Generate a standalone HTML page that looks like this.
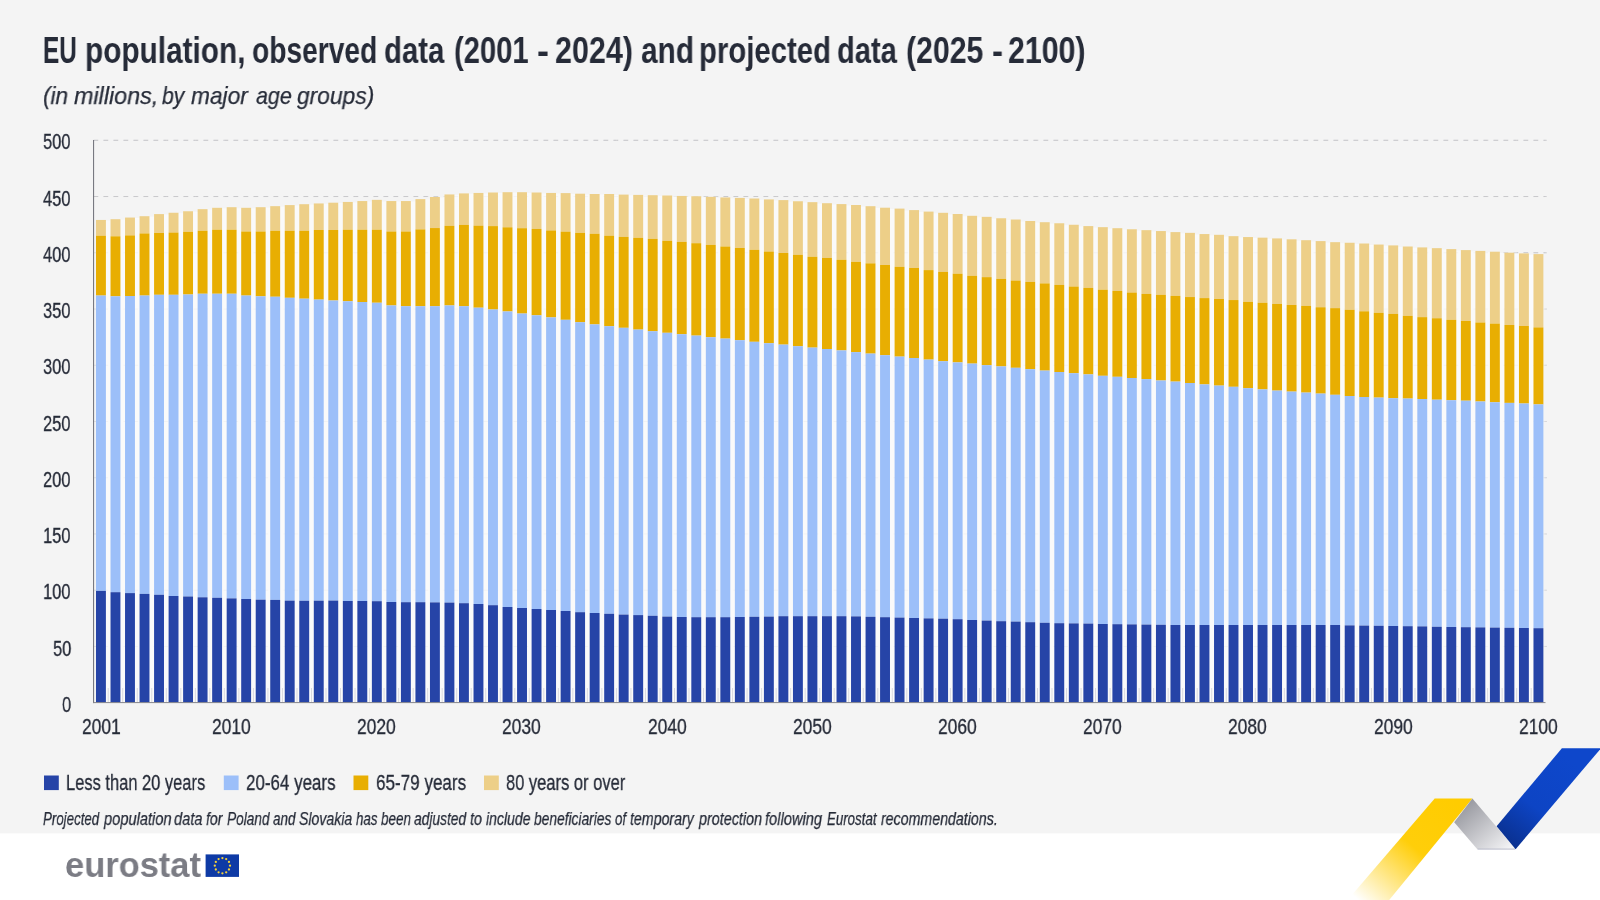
<!DOCTYPE html>
<html><head><meta charset="utf-8"><title>EU population</title>
<style>
html,body{margin:0;padding:0;}
body{width:1600px;height:900px;overflow:hidden;background:#F4F4F4;position:relative;font-family:"Liberation Sans",sans-serif;}
.t{position:absolute;white-space:nowrap;will-change:transform;transform-origin:0 0;font-family:"Liberation Sans",sans-serif;}
svg{position:absolute;left:0;top:0;}
</style></head><body>
<svg width="1600" height="900" viewBox="0 0 1600 900">
<defs>
<linearGradient id="gy" gradientUnits="userSpaceOnUse" x1="1455" y1="800" x2="1364" y2="905"><stop offset="0" stop-color="#FFCC00"/><stop offset="0.45" stop-color="#FFCE0A"/><stop offset="1" stop-color="#FFCC00" stop-opacity="0"/></linearGradient>
<linearGradient id="gg" gradientUnits="userSpaceOnUse" x1="1462" y1="805" x2="1505" y2="855"><stop offset="0" stop-color="#97989F"/><stop offset="1" stop-color="#F6F6F8"/></linearGradient>
<linearGradient id="gb" gradientUnits="userSpaceOnUse" x1="1570" y1="760" x2="1505" y2="845"><stop offset="0" stop-color="#0E47CB"/><stop offset="0.55" stop-color="#0D44C4"/><stop offset="1" stop-color="#0A2F8C"/></linearGradient>
</defs>
<rect x="0" y="833.35" width="1600" height="67" fill="#FFFFFF"/>

<clipPath id="above">
<rect x="90" y="0" width="3.70" height="900"/>
<rect x="93.69" y="0" width="14.54" height="219.65"/>
<rect x="108.21" y="0" width="14.54" height="218.90"/>
<rect x="122.73" y="0" width="14.54" height="217.25"/>
<rect x="137.25" y="0" width="14.54" height="215.90"/>
<rect x="151.77" y="0" width="14.54" height="213.80"/>
<rect x="166.29" y="0" width="14.54" height="212.45"/>
<rect x="180.81" y="0" width="14.54" height="210.95"/>
<rect x="195.33" y="0" width="14.54" height="208.85"/>
<rect x="209.85" y="0" width="14.54" height="207.50"/>
<rect x="224.37" y="0" width="14.54" height="206.90"/>
<rect x="238.89" y="0" width="14.54" height="207.50"/>
<rect x="253.41" y="0" width="14.54" height="206.90"/>
<rect x="267.93" y="0" width="14.54" height="205.85"/>
<rect x="282.45" y="0" width="14.54" height="204.80"/>
<rect x="296.97" y="0" width="14.54" height="203.90"/>
<rect x="311.49" y="0" width="14.54" height="203.15"/>
<rect x="326.01" y="0" width="14.54" height="202.40"/>
<rect x="340.53" y="0" width="14.54" height="201.65"/>
<rect x="355.05" y="0" width="14.54" height="200.75"/>
<rect x="369.57" y="0" width="14.54" height="199.55"/>
<rect x="384.09" y="0" width="14.54" height="200.75"/>
<rect x="398.61" y="0" width="14.54" height="200.75"/>
<rect x="413.13" y="0" width="14.54" height="198.80"/>
<rect x="427.65" y="0" width="14.54" height="196.70"/>
<rect x="442.17" y="0" width="14.54" height="194.15"/>
<rect x="456.69" y="0" width="14.54" height="193.10"/>
<rect x="471.21" y="0" width="14.54" height="192.65"/>
<rect x="485.73" y="0" width="14.54" height="192.20"/>
<rect x="500.25" y="0" width="14.54" height="191.90"/>
<rect x="514.77" y="0" width="14.54" height="191.90"/>
<rect x="529.29" y="0" width="14.54" height="192.20"/>
<rect x="543.81" y="0" width="14.54" height="192.65"/>
<rect x="558.33" y="0" width="14.54" height="192.80"/>
<rect x="572.85" y="0" width="14.54" height="193.40"/>
<rect x="587.37" y="0" width="14.54" height="193.70"/>
<rect x="601.89" y="0" width="14.54" height="193.70"/>
<rect x="616.41" y="0" width="14.54" height="194.30"/>
<rect x="630.93" y="0" width="14.54" height="194.60"/>
<rect x="645.45" y="0" width="14.54" height="194.90"/>
<rect x="659.97" y="0" width="14.54" height="195.20"/>
<rect x="674.49" y="0" width="14.54" height="195.65"/>
<rect x="689.01" y="0" width="14.54" height="195.95"/>
<rect x="703.53" y="0" width="14.54" height="196.55"/>
<rect x="718.05" y="0" width="14.54" height="197.15"/>
<rect x="732.57" y="0" width="14.54" height="197.60"/>
<rect x="747.09" y="0" width="14.54" height="198.20"/>
<rect x="761.61" y="0" width="14.54" height="199.10"/>
<rect x="776.13" y="0" width="14.54" height="199.80"/>
<rect x="790.65" y="0" width="14.54" height="200.95"/>
<rect x="805.17" y="0" width="14.54" height="201.85"/>
<rect x="819.69" y="0" width="14.54" height="202.90"/>
<rect x="834.21" y="0" width="14.54" height="203.80"/>
<rect x="848.73" y="0" width="14.54" height="204.70"/>
<rect x="863.25" y="0" width="14.54" height="205.90"/>
<rect x="877.77" y="0" width="14.54" height="207.40"/>
<rect x="892.29" y="0" width="14.54" height="208.30"/>
<rect x="906.81" y="0" width="14.54" height="209.80"/>
<rect x="921.33" y="0" width="14.54" height="211.30"/>
<rect x="935.85" y="0" width="14.54" height="212.50"/>
<rect x="950.37" y="0" width="14.54" height="213.70"/>
<rect x="964.89" y="0" width="14.54" height="215.50"/>
<rect x="979.41" y="0" width="14.54" height="216.55"/>
<rect x="993.93" y="0" width="14.54" height="217.95"/>
<rect x="1008.45" y="0" width="14.54" height="219.20"/>
<rect x="1022.97" y="0" width="14.54" height="220.70"/>
<rect x="1037.49" y="0" width="14.54" height="221.90"/>
<rect x="1052.01" y="0" width="14.54" height="222.95"/>
<rect x="1066.53" y="0" width="14.54" height="224.45"/>
<rect x="1081.05" y="0" width="14.54" height="225.80"/>
<rect x="1095.57" y="0" width="14.54" height="226.85"/>
<rect x="1110.09" y="0" width="14.54" height="227.90"/>
<rect x="1124.61" y="0" width="14.54" height="228.95"/>
<rect x="1139.13" y="0" width="14.54" height="229.85"/>
<rect x="1153.65" y="0" width="14.54" height="230.75"/>
<rect x="1168.17" y="0" width="14.54" height="231.80"/>
<rect x="1182.69" y="0" width="14.54" height="232.55"/>
<rect x="1197.21" y="0" width="14.54" height="233.75"/>
<rect x="1211.73" y="0" width="14.54" height="234.50"/>
<rect x="1226.25" y="0" width="14.54" height="235.85"/>
<rect x="1240.77" y="0" width="14.54" height="236.75"/>
<rect x="1255.29" y="0" width="14.54" height="237.35"/>
<rect x="1269.81" y="0" width="14.54" height="238.10"/>
<rect x="1284.33" y="0" width="14.54" height="239.00"/>
<rect x="1298.85" y="0" width="14.54" height="239.90"/>
<rect x="1313.37" y="0" width="14.54" height="240.80"/>
<rect x="1327.89" y="0" width="14.54" height="241.85"/>
<rect x="1342.41" y="0" width="14.54" height="242.45"/>
<rect x="1356.93" y="0" width="14.54" height="243.20"/>
<rect x="1371.45" y="0" width="14.54" height="244.25"/>
<rect x="1385.97" y="0" width="14.54" height="245.10"/>
<rect x="1400.49" y="0" width="14.54" height="246.20"/>
<rect x="1415.01" y="0" width="14.54" height="247.10"/>
<rect x="1429.53" y="0" width="14.54" height="247.85"/>
<rect x="1444.05" y="0" width="14.54" height="248.80"/>
<rect x="1458.57" y="0" width="14.54" height="249.80"/>
<rect x="1473.09" y="0" width="14.54" height="250.60"/>
<rect x="1487.61" y="0" width="14.54" height="251.40"/>
<rect x="1502.13" y="0" width="14.54" height="252.40"/>
<rect x="1516.65" y="0" width="14.54" height="253.10"/>
<rect x="1531.17" y="0" width="14.54" height="253.80"/>
<rect x="1545.69" y="0" width="20" height="900"/>
</clipPath>
<g stroke="#C9C9CC" stroke-width="1" stroke-dasharray="4.7 5.3" fill="none" opacity="0.45">
<path d="M93.5 646.46H1546.5"/>
<path d="M93.5 590.22H1546.5"/>
<path d="M93.5 533.98H1546.5"/>
<path d="M93.5 477.74H1546.5"/>
<path d="M93.5 421.50H1546.5"/>
<path d="M93.5 365.26H1546.5"/>
<path d="M93.5 309.02H1546.5"/>
<path d="M93.5 252.78H1546.5"/>
<path d="M93.5 196.54H1546.5"/>
<path d="M93.5 140.30H1546.5"/>
</g>
<g stroke="#C9C9CC" stroke-width="1" stroke-dasharray="4.7 5.3" fill="none" opacity="1" clip-path="url(#above)">
<path d="M93.5 646.46H1546.5"/>
<path d="M93.5 590.22H1546.5"/>
<path d="M93.5 533.98H1546.5"/>
<path d="M93.5 477.74H1546.5"/>
<path d="M93.5 421.50H1546.5"/>
<path d="M93.5 365.26H1546.5"/>
<path d="M93.5 309.02H1546.5"/>
<path d="M93.5 252.78H1546.5"/>
<path d="M93.5 196.54H1546.5"/>
<path d="M93.5 140.30H1546.5"/>
</g>
<g fill="#FFFFFF" opacity="0.6">
<rect x="105.60" y="220.45" width="5.22" height="481.75"/>
<rect x="120.12" y="219.70" width="5.22" height="482.50"/>
<rect x="134.64" y="218.05" width="5.22" height="484.15"/>
<rect x="149.16" y="216.70" width="5.22" height="485.50"/>
<rect x="163.68" y="214.60" width="5.22" height="487.60"/>
<rect x="178.20" y="213.25" width="5.22" height="488.95"/>
<rect x="192.72" y="211.75" width="5.22" height="490.45"/>
<rect x="207.24" y="209.65" width="5.22" height="492.55"/>
<rect x="221.76" y="208.30" width="5.22" height="493.90"/>
<rect x="236.28" y="208.30" width="5.22" height="493.90"/>
<rect x="250.80" y="208.30" width="5.22" height="493.90"/>
<rect x="265.32" y="207.70" width="5.22" height="494.50"/>
<rect x="279.84" y="206.65" width="5.22" height="495.55"/>
<rect x="294.36" y="205.60" width="5.22" height="496.60"/>
<rect x="308.88" y="204.70" width="5.22" height="497.50"/>
<rect x="323.40" y="203.95" width="5.22" height="498.25"/>
<rect x="337.92" y="203.20" width="5.22" height="499.00"/>
<rect x="352.44" y="202.45" width="5.22" height="499.75"/>
<rect x="366.96" y="201.55" width="5.22" height="500.65"/>
<rect x="381.48" y="201.55" width="5.22" height="500.65"/>
<rect x="396.00" y="201.55" width="5.22" height="500.65"/>
<rect x="410.52" y="201.55" width="5.22" height="500.65"/>
<rect x="425.04" y="199.60" width="5.22" height="502.60"/>
<rect x="439.56" y="197.50" width="5.22" height="504.70"/>
<rect x="454.08" y="194.95" width="5.22" height="507.25"/>
<rect x="468.60" y="193.90" width="5.22" height="508.30"/>
<rect x="483.12" y="193.45" width="5.22" height="508.75"/>
<rect x="497.64" y="193.00" width="5.22" height="509.20"/>
<rect x="512.16" y="192.70" width="5.22" height="509.50"/>
<rect x="526.68" y="193.00" width="5.22" height="509.20"/>
<rect x="541.20" y="193.45" width="5.22" height="508.75"/>
<rect x="555.72" y="193.60" width="5.22" height="508.60"/>
<rect x="570.24" y="194.20" width="5.22" height="508.00"/>
<rect x="584.76" y="194.50" width="5.22" height="507.70"/>
<rect x="599.28" y="194.50" width="5.22" height="507.70"/>
<rect x="613.80" y="195.10" width="5.22" height="507.10"/>
<rect x="628.32" y="195.40" width="5.22" height="506.80"/>
<rect x="642.84" y="195.70" width="5.22" height="506.50"/>
<rect x="657.36" y="196.00" width="5.22" height="506.20"/>
<rect x="671.88" y="196.45" width="5.22" height="505.75"/>
<rect x="686.40" y="196.75" width="5.22" height="505.45"/>
<rect x="700.92" y="197.35" width="5.22" height="504.85"/>
<rect x="715.44" y="197.95" width="5.22" height="504.25"/>
<rect x="729.96" y="198.40" width="5.22" height="503.80"/>
<rect x="744.48" y="199.00" width="5.22" height="503.20"/>
<rect x="759.00" y="199.90" width="5.22" height="502.30"/>
<rect x="773.52" y="200.60" width="5.22" height="501.60"/>
<rect x="788.04" y="201.75" width="5.22" height="500.45"/>
<rect x="802.56" y="202.65" width="5.22" height="499.55"/>
<rect x="817.08" y="203.70" width="5.22" height="498.50"/>
<rect x="831.60" y="204.60" width="5.22" height="497.60"/>
<rect x="846.12" y="205.50" width="5.22" height="496.70"/>
<rect x="860.64" y="206.70" width="5.22" height="495.50"/>
<rect x="875.16" y="208.20" width="5.22" height="494.00"/>
<rect x="889.68" y="209.10" width="5.22" height="493.10"/>
<rect x="904.20" y="210.60" width="5.22" height="491.60"/>
<rect x="918.72" y="212.10" width="5.22" height="490.10"/>
<rect x="933.24" y="213.30" width="5.22" height="488.90"/>
<rect x="947.76" y="214.50" width="5.22" height="487.70"/>
<rect x="962.28" y="216.30" width="5.22" height="485.90"/>
<rect x="976.80" y="217.35" width="5.22" height="484.85"/>
<rect x="991.32" y="218.75" width="5.22" height="483.45"/>
<rect x="1005.84" y="220.00" width="5.22" height="482.20"/>
<rect x="1020.36" y="221.50" width="5.22" height="480.70"/>
<rect x="1034.88" y="222.70" width="5.22" height="479.50"/>
<rect x="1049.40" y="223.75" width="5.22" height="478.45"/>
<rect x="1063.92" y="225.25" width="5.22" height="476.95"/>
<rect x="1078.44" y="226.60" width="5.22" height="475.60"/>
<rect x="1092.96" y="227.65" width="5.22" height="474.55"/>
<rect x="1107.48" y="228.70" width="5.22" height="473.50"/>
<rect x="1122.00" y="229.75" width="5.22" height="472.45"/>
<rect x="1136.52" y="230.65" width="5.22" height="471.55"/>
<rect x="1151.04" y="231.55" width="5.22" height="470.65"/>
<rect x="1165.56" y="232.60" width="5.22" height="469.60"/>
<rect x="1180.08" y="233.35" width="5.22" height="468.85"/>
<rect x="1194.60" y="234.55" width="5.22" height="467.65"/>
<rect x="1209.12" y="235.30" width="5.22" height="466.90"/>
<rect x="1223.64" y="236.65" width="5.22" height="465.55"/>
<rect x="1238.16" y="237.55" width="5.22" height="464.65"/>
<rect x="1252.68" y="238.15" width="5.22" height="464.05"/>
<rect x="1267.20" y="238.90" width="5.22" height="463.30"/>
<rect x="1281.72" y="239.80" width="5.22" height="462.40"/>
<rect x="1296.24" y="240.70" width="5.22" height="461.50"/>
<rect x="1310.76" y="241.60" width="5.22" height="460.60"/>
<rect x="1325.28" y="242.65" width="5.22" height="459.55"/>
<rect x="1339.80" y="243.25" width="5.22" height="458.95"/>
<rect x="1354.32" y="244.00" width="5.22" height="458.20"/>
<rect x="1368.84" y="245.05" width="5.22" height="457.15"/>
<rect x="1383.36" y="245.90" width="5.22" height="456.30"/>
<rect x="1397.88" y="247.00" width="5.22" height="455.20"/>
<rect x="1412.40" y="247.90" width="5.22" height="454.30"/>
<rect x="1426.92" y="248.65" width="5.22" height="453.55"/>
<rect x="1441.44" y="249.60" width="5.22" height="452.60"/>
<rect x="1455.96" y="250.60" width="5.22" height="451.60"/>
<rect x="1470.48" y="251.40" width="5.22" height="450.80"/>
<rect x="1485.00" y="252.20" width="5.22" height="450.00"/>
<rect x="1499.52" y="253.20" width="5.22" height="449.00"/>
<rect x="1514.04" y="253.90" width="5.22" height="448.30"/>
<rect x="1528.56" y="254.60" width="5.22" height="447.60"/>
</g>
<g fill="#EDCF88">
<rect x="96.00" y="219.95" width="9.9" height="15.75"/>
<rect x="110.52" y="219.20" width="9.9" height="17.10"/>
<rect x="125.04" y="217.55" width="9.9" height="17.85"/>
<rect x="139.56" y="216.20" width="9.9" height="17.25"/>
<rect x="154.08" y="214.10" width="9.9" height="18.90"/>
<rect x="168.60" y="212.75" width="9.9" height="19.80"/>
<rect x="183.12" y="211.25" width="9.9" height="20.55"/>
<rect x="197.64" y="209.15" width="9.9" height="21.60"/>
<rect x="212.16" y="207.80" width="9.9" height="21.90"/>
<rect x="226.68" y="207.20" width="9.9" height="22.50"/>
<rect x="241.20" y="207.80" width="9.9" height="23.70"/>
<rect x="255.72" y="207.20" width="9.9" height="24.30"/>
<rect x="270.24" y="206.15" width="9.9" height="24.60"/>
<rect x="284.76" y="205.10" width="9.9" height="25.65"/>
<rect x="299.28" y="204.20" width="9.9" height="26.55"/>
<rect x="313.80" y="203.45" width="9.9" height="26.55"/>
<rect x="328.32" y="202.70" width="9.9" height="27.30"/>
<rect x="342.84" y="201.95" width="9.9" height="27.75"/>
<rect x="357.36" y="201.05" width="9.9" height="28.65"/>
<rect x="371.88" y="199.85" width="9.9" height="29.85"/>
<rect x="386.40" y="201.05" width="9.9" height="30.45"/>
<rect x="400.92" y="201.05" width="9.9" height="30.45"/>
<rect x="415.44" y="199.10" width="9.9" height="30.30"/>
<rect x="429.96" y="197.00" width="9.9" height="31.05"/>
<rect x="444.48" y="194.45" width="9.9" height="31.35"/>
<rect x="459.00" y="193.40" width="9.9" height="31.50"/>
<rect x="473.52" y="192.95" width="9.9" height="32.70"/>
<rect x="488.04" y="192.50" width="9.9" height="33.60"/>
<rect x="502.56" y="192.20" width="9.9" height="35.10"/>
<rect x="517.08" y="192.20" width="9.9" height="36.00"/>
<rect x="531.60" y="192.50" width="9.9" height="36.45"/>
<rect x="546.12" y="192.95" width="9.9" height="37.50"/>
<rect x="560.64" y="193.10" width="9.9" height="38.55"/>
<rect x="575.16" y="193.70" width="9.9" height="39.15"/>
<rect x="589.68" y="194.00" width="9.9" height="39.75"/>
<rect x="604.20" y="194.00" width="9.9" height="41.70"/>
<rect x="618.72" y="194.60" width="9.9" height="42.30"/>
<rect x="633.24" y="194.90" width="9.9" height="42.90"/>
<rect x="647.76" y="195.20" width="9.9" height="43.65"/>
<rect x="662.28" y="195.50" width="9.9" height="45.30"/>
<rect x="676.80" y="195.95" width="9.9" height="45.90"/>
<rect x="691.32" y="196.25" width="9.9" height="46.95"/>
<rect x="705.84" y="196.85" width="9.9" height="48.00"/>
<rect x="720.36" y="197.45" width="9.9" height="49.05"/>
<rect x="734.88" y="197.90" width="9.9" height="50.10"/>
<rect x="749.40" y="198.50" width="9.9" height="51.30"/>
<rect x="763.92" y="199.40" width="9.9" height="52.15"/>
<rect x="778.44" y="200.10" width="9.9" height="52.90"/>
<rect x="792.96" y="201.25" width="9.9" height="53.55"/>
<rect x="807.48" y="202.15" width="9.9" height="54.60"/>
<rect x="822.00" y="203.20" width="9.9" height="54.75"/>
<rect x="836.52" y="204.10" width="9.9" height="55.65"/>
<rect x="851.04" y="205.00" width="9.9" height="56.85"/>
<rect x="865.56" y="206.20" width="9.9" height="57.15"/>
<rect x="880.08" y="207.70" width="9.9" height="57.30"/>
<rect x="894.60" y="208.60" width="9.9" height="58.20"/>
<rect x="909.12" y="210.10" width="9.9" height="57.90"/>
<rect x="923.64" y="211.60" width="9.9" height="58.50"/>
<rect x="938.16" y="212.80" width="9.9" height="59.10"/>
<rect x="952.68" y="214.00" width="9.9" height="59.70"/>
<rect x="967.20" y="215.80" width="9.9" height="60.00"/>
<rect x="981.72" y="216.85" width="9.9" height="60.30"/>
<rect x="996.24" y="218.25" width="9.9" height="60.60"/>
<rect x="1010.76" y="219.50" width="9.9" height="61.05"/>
<rect x="1025.28" y="221.00" width="9.9" height="60.90"/>
<rect x="1039.80" y="222.20" width="9.9" height="61.20"/>
<rect x="1054.32" y="223.25" width="9.9" height="61.65"/>
<rect x="1068.84" y="224.75" width="9.9" height="61.80"/>
<rect x="1083.36" y="226.10" width="9.9" height="61.80"/>
<rect x="1097.88" y="227.15" width="9.9" height="62.55"/>
<rect x="1112.40" y="228.20" width="9.9" height="62.70"/>
<rect x="1126.92" y="229.25" width="9.9" height="63.30"/>
<rect x="1141.44" y="230.15" width="9.9" height="63.75"/>
<rect x="1155.96" y="231.05" width="9.9" height="63.75"/>
<rect x="1170.48" y="232.10" width="9.9" height="63.75"/>
<rect x="1185.00" y="232.85" width="9.9" height="64.20"/>
<rect x="1199.52" y="234.05" width="9.9" height="64.05"/>
<rect x="1214.04" y="234.80" width="9.9" height="64.20"/>
<rect x="1228.56" y="236.15" width="9.9" height="63.90"/>
<rect x="1243.08" y="237.05" width="9.9" height="64.80"/>
<rect x="1257.60" y="237.65" width="9.9" height="65.10"/>
<rect x="1272.12" y="238.40" width="9.9" height="65.55"/>
<rect x="1286.64" y="239.30" width="9.9" height="65.70"/>
<rect x="1301.16" y="240.20" width="9.9" height="65.70"/>
<rect x="1315.68" y="241.10" width="9.9" height="66.15"/>
<rect x="1330.20" y="242.15" width="9.9" height="66.00"/>
<rect x="1344.72" y="242.75" width="9.9" height="67.05"/>
<rect x="1359.24" y="243.50" width="9.9" height="67.80"/>
<rect x="1373.76" y="244.55" width="9.9" height="68.25"/>
<rect x="1388.28" y="245.40" width="9.9" height="68.50"/>
<rect x="1402.80" y="246.50" width="9.9" height="69.35"/>
<rect x="1417.32" y="247.40" width="9.9" height="69.75"/>
<rect x="1431.84" y="248.15" width="9.9" height="70.10"/>
<rect x="1446.36" y="249.10" width="9.9" height="70.70"/>
<rect x="1460.88" y="250.10" width="9.9" height="70.90"/>
<rect x="1475.40" y="250.90" width="9.9" height="71.60"/>
<rect x="1489.92" y="251.70" width="9.9" height="71.90"/>
<rect x="1504.44" y="252.70" width="9.9" height="72.30"/>
<rect x="1518.96" y="253.40" width="9.9" height="72.60"/>
<rect x="1533.48" y="254.10" width="9.9" height="73.30"/>
</g>
<g fill="#E8AE02">
<rect x="96.00" y="235.70" width="9.9" height="59.85"/>
<rect x="110.52" y="236.30" width="9.9" height="60.00"/>
<rect x="125.04" y="235.40" width="9.9" height="60.60"/>
<rect x="139.56" y="233.45" width="9.9" height="62.10"/>
<rect x="154.08" y="233.00" width="9.9" height="61.80"/>
<rect x="168.60" y="232.55" width="9.9" height="62.25"/>
<rect x="183.12" y="231.80" width="9.9" height="62.70"/>
<rect x="197.64" y="230.75" width="9.9" height="63.00"/>
<rect x="212.16" y="229.70" width="9.9" height="64.05"/>
<rect x="226.68" y="229.70" width="9.9" height="64.05"/>
<rect x="241.20" y="231.50" width="9.9" height="64.05"/>
<rect x="255.72" y="231.50" width="9.9" height="64.80"/>
<rect x="270.24" y="230.75" width="9.9" height="66.00"/>
<rect x="284.76" y="230.75" width="9.9" height="67.05"/>
<rect x="299.28" y="230.75" width="9.9" height="67.95"/>
<rect x="313.80" y="230.00" width="9.9" height="69.60"/>
<rect x="328.32" y="230.00" width="9.9" height="70.50"/>
<rect x="342.84" y="229.70" width="9.9" height="71.55"/>
<rect x="357.36" y="229.70" width="9.9" height="72.30"/>
<rect x="371.88" y="229.70" width="9.9" height="73.05"/>
<rect x="386.40" y="231.50" width="9.9" height="73.95"/>
<rect x="400.92" y="231.50" width="9.9" height="74.70"/>
<rect x="415.44" y="229.40" width="9.9" height="76.80"/>
<rect x="429.96" y="228.05" width="9.9" height="78.15"/>
<rect x="444.48" y="225.80" width="9.9" height="79.65"/>
<rect x="459.00" y="224.90" width="9.9" height="81.30"/>
<rect x="473.52" y="225.65" width="9.9" height="82.05"/>
<rect x="488.04" y="226.10" width="9.9" height="83.40"/>
<rect x="502.56" y="227.30" width="9.9" height="84.15"/>
<rect x="517.08" y="228.20" width="9.9" height="85.35"/>
<rect x="531.60" y="228.95" width="9.9" height="86.35"/>
<rect x="546.12" y="230.45" width="9.9" height="86.95"/>
<rect x="560.64" y="231.65" width="9.9" height="88.15"/>
<rect x="575.16" y="232.85" width="9.9" height="89.35"/>
<rect x="589.68" y="233.75" width="9.9" height="90.65"/>
<rect x="604.20" y="235.70" width="9.9" height="90.50"/>
<rect x="618.72" y="236.90" width="9.9" height="90.90"/>
<rect x="633.24" y="237.80" width="9.9" height="91.80"/>
<rect x="647.76" y="238.85" width="9.9" height="92.35"/>
<rect x="662.28" y="240.80" width="9.9" height="92.00"/>
<rect x="676.80" y="241.85" width="9.9" height="92.35"/>
<rect x="691.32" y="243.20" width="9.9" height="92.40"/>
<rect x="705.84" y="244.85" width="9.9" height="92.35"/>
<rect x="720.36" y="246.50" width="9.9" height="92.10"/>
<rect x="734.88" y="248.00" width="9.9" height="92.20"/>
<rect x="749.40" y="249.80" width="9.9" height="92.00"/>
<rect x="763.92" y="251.55" width="9.9" height="91.65"/>
<rect x="778.44" y="253.00" width="9.9" height="91.60"/>
<rect x="792.96" y="254.80" width="9.9" height="91.40"/>
<rect x="807.48" y="256.75" width="9.9" height="90.85"/>
<rect x="822.00" y="257.95" width="9.9" height="91.05"/>
<rect x="836.52" y="259.75" width="9.9" height="90.65"/>
<rect x="851.04" y="261.85" width="9.9" height="90.25"/>
<rect x="865.56" y="263.35" width="9.9" height="90.25"/>
<rect x="880.08" y="265.00" width="9.9" height="90.20"/>
<rect x="894.60" y="266.80" width="9.9" height="89.80"/>
<rect x="909.12" y="268.00" width="9.9" height="90.00"/>
<rect x="923.64" y="270.10" width="9.9" height="89.50"/>
<rect x="938.16" y="271.90" width="9.9" height="89.30"/>
<rect x="952.68" y="273.70" width="9.9" height="88.70"/>
<rect x="967.20" y="275.80" width="9.9" height="87.80"/>
<rect x="981.72" y="277.15" width="9.9" height="88.05"/>
<rect x="996.24" y="278.85" width="9.9" height="87.55"/>
<rect x="1010.76" y="280.55" width="9.9" height="87.25"/>
<rect x="1025.28" y="281.90" width="9.9" height="87.30"/>
<rect x="1039.80" y="283.40" width="9.9" height="87.20"/>
<rect x="1054.32" y="284.90" width="9.9" height="87.10"/>
<rect x="1068.84" y="286.55" width="9.9" height="86.65"/>
<rect x="1083.36" y="287.90" width="9.9" height="86.50"/>
<rect x="1097.88" y="289.70" width="9.9" height="86.10"/>
<rect x="1112.40" y="290.90" width="9.9" height="85.90"/>
<rect x="1126.92" y="292.55" width="9.9" height="85.45"/>
<rect x="1141.44" y="293.90" width="9.9" height="85.20"/>
<rect x="1155.96" y="294.80" width="9.9" height="85.70"/>
<rect x="1170.48" y="295.85" width="9.9" height="85.75"/>
<rect x="1185.00" y="297.05" width="9.9" height="85.95"/>
<rect x="1199.52" y="298.10" width="9.9" height="86.30"/>
<rect x="1214.04" y="299.00" width="9.9" height="86.60"/>
<rect x="1228.56" y="300.05" width="9.9" height="86.75"/>
<rect x="1243.08" y="301.85" width="9.9" height="86.35"/>
<rect x="1257.60" y="302.75" width="9.9" height="86.65"/>
<rect x="1272.12" y="303.95" width="9.9" height="86.65"/>
<rect x="1286.64" y="305.00" width="9.9" height="86.60"/>
<rect x="1301.16" y="305.90" width="9.9" height="86.70"/>
<rect x="1315.68" y="307.25" width="9.9" height="86.35"/>
<rect x="1330.20" y="308.15" width="9.9" height="86.65"/>
<rect x="1344.72" y="309.80" width="9.9" height="86.20"/>
<rect x="1359.24" y="311.30" width="9.9" height="85.70"/>
<rect x="1373.76" y="312.80" width="9.9" height="84.80"/>
<rect x="1388.28" y="313.90" width="9.9" height="84.30"/>
<rect x="1402.80" y="315.85" width="9.9" height="82.70"/>
<rect x="1417.32" y="317.15" width="9.9" height="81.85"/>
<rect x="1431.84" y="318.25" width="9.9" height="81.45"/>
<rect x="1446.36" y="319.80" width="9.9" height="80.40"/>
<rect x="1460.88" y="321.00" width="9.9" height="79.70"/>
<rect x="1475.40" y="322.50" width="9.9" height="79.00"/>
<rect x="1489.92" y="323.60" width="9.9" height="78.65"/>
<rect x="1504.44" y="325.00" width="9.9" height="77.90"/>
<rect x="1518.96" y="326.00" width="9.9" height="77.50"/>
<rect x="1533.48" y="327.40" width="9.9" height="77.00"/>
</g>
<g fill="#9CBFF9">
<rect x="96.00" y="295.55" width="9.9" height="295.35"/>
<rect x="110.52" y="296.30" width="9.9" height="295.90"/>
<rect x="125.04" y="296.00" width="9.9" height="297.10"/>
<rect x="139.56" y="295.55" width="9.9" height="298.35"/>
<rect x="154.08" y="294.80" width="9.9" height="300.00"/>
<rect x="168.60" y="294.80" width="9.9" height="301.20"/>
<rect x="183.12" y="294.50" width="9.9" height="302.00"/>
<rect x="197.64" y="293.75" width="9.9" height="303.55"/>
<rect x="212.16" y="293.75" width="9.9" height="304.05"/>
<rect x="226.68" y="293.75" width="9.9" height="304.65"/>
<rect x="241.20" y="295.55" width="9.9" height="303.45"/>
<rect x="255.72" y="296.30" width="9.9" height="303.40"/>
<rect x="270.24" y="296.75" width="9.9" height="303.15"/>
<rect x="284.76" y="297.80" width="9.9" height="302.85"/>
<rect x="299.28" y="298.70" width="9.9" height="302.10"/>
<rect x="313.80" y="299.60" width="9.9" height="301.10"/>
<rect x="328.32" y="300.50" width="9.9" height="300.10"/>
<rect x="342.84" y="301.25" width="9.9" height="299.75"/>
<rect x="357.36" y="302.00" width="9.9" height="299.00"/>
<rect x="371.88" y="302.75" width="9.9" height="298.45"/>
<rect x="386.40" y="305.45" width="9.9" height="296.55"/>
<rect x="400.92" y="306.20" width="9.9" height="296.00"/>
<rect x="415.44" y="306.20" width="9.9" height="296.00"/>
<rect x="429.96" y="306.20" width="9.9" height="296.20"/>
<rect x="444.48" y="305.45" width="9.9" height="297.15"/>
<rect x="459.00" y="306.20" width="9.9" height="297.00"/>
<rect x="473.52" y="307.70" width="9.9" height="296.30"/>
<rect x="488.04" y="309.50" width="9.9" height="295.70"/>
<rect x="502.56" y="311.45" width="9.9" height="295.55"/>
<rect x="517.08" y="313.55" width="9.9" height="294.45"/>
<rect x="531.60" y="315.30" width="9.9" height="293.70"/>
<rect x="546.12" y="317.40" width="9.9" height="292.60"/>
<rect x="560.64" y="319.80" width="9.9" height="291.20"/>
<rect x="575.16" y="322.20" width="9.9" height="290.00"/>
<rect x="589.68" y="324.40" width="9.9" height="288.60"/>
<rect x="604.20" y="326.20" width="9.9" height="287.60"/>
<rect x="618.72" y="327.80" width="9.9" height="286.80"/>
<rect x="633.24" y="329.60" width="9.9" height="285.50"/>
<rect x="647.76" y="331.20" width="9.9" height="284.60"/>
<rect x="662.28" y="332.80" width="9.9" height="283.80"/>
<rect x="676.80" y="334.20" width="9.9" height="282.80"/>
<rect x="691.32" y="335.60" width="9.9" height="281.60"/>
<rect x="705.84" y="337.20" width="9.9" height="280.00"/>
<rect x="720.36" y="338.60" width="9.9" height="278.60"/>
<rect x="734.88" y="340.20" width="9.9" height="276.80"/>
<rect x="749.40" y="341.80" width="9.9" height="275.00"/>
<rect x="763.92" y="343.20" width="9.9" height="273.40"/>
<rect x="778.44" y="344.60" width="9.9" height="271.60"/>
<rect x="792.96" y="346.20" width="9.9" height="270.00"/>
<rect x="807.48" y="347.60" width="9.9" height="268.60"/>
<rect x="822.00" y="349.00" width="9.9" height="267.20"/>
<rect x="836.52" y="350.40" width="9.9" height="265.80"/>
<rect x="851.04" y="352.10" width="9.9" height="264.30"/>
<rect x="865.56" y="353.60" width="9.9" height="263.20"/>
<rect x="880.08" y="355.20" width="9.9" height="262.00"/>
<rect x="894.60" y="356.60" width="9.9" height="261.00"/>
<rect x="909.12" y="358.00" width="9.9" height="260.00"/>
<rect x="923.64" y="359.60" width="9.9" height="258.80"/>
<rect x="938.16" y="361.20" width="9.9" height="257.50"/>
<rect x="952.68" y="362.40" width="9.9" height="256.80"/>
<rect x="967.20" y="363.60" width="9.9" height="256.40"/>
<rect x="981.72" y="365.20" width="9.9" height="255.40"/>
<rect x="996.24" y="366.40" width="9.9" height="254.80"/>
<rect x="1010.76" y="367.80" width="9.9" height="253.80"/>
<rect x="1025.28" y="369.20" width="9.9" height="253.00"/>
<rect x="1039.80" y="370.60" width="9.9" height="252.20"/>
<rect x="1054.32" y="372.00" width="9.9" height="251.20"/>
<rect x="1068.84" y="373.20" width="9.9" height="250.20"/>
<rect x="1083.36" y="374.40" width="9.9" height="249.20"/>
<rect x="1097.88" y="375.80" width="9.9" height="248.20"/>
<rect x="1112.40" y="376.80" width="9.9" height="247.40"/>
<rect x="1126.92" y="378.00" width="9.9" height="246.40"/>
<rect x="1141.44" y="379.10" width="9.9" height="245.50"/>
<rect x="1155.96" y="380.50" width="9.9" height="244.30"/>
<rect x="1170.48" y="381.60" width="9.9" height="243.40"/>
<rect x="1185.00" y="383.00" width="9.9" height="242.00"/>
<rect x="1199.52" y="384.40" width="9.9" height="240.60"/>
<rect x="1214.04" y="385.60" width="9.9" height="239.40"/>
<rect x="1228.56" y="386.80" width="9.9" height="238.20"/>
<rect x="1243.08" y="388.20" width="9.9" height="236.80"/>
<rect x="1257.60" y="389.40" width="9.9" height="235.60"/>
<rect x="1272.12" y="390.60" width="9.9" height="234.40"/>
<rect x="1286.64" y="391.60" width="9.9" height="233.40"/>
<rect x="1301.16" y="392.60" width="9.9" height="232.40"/>
<rect x="1315.68" y="393.60" width="9.9" height="231.40"/>
<rect x="1330.20" y="394.80" width="9.9" height="230.20"/>
<rect x="1344.72" y="396.00" width="9.9" height="229.40"/>
<rect x="1359.24" y="397.00" width="9.9" height="228.60"/>
<rect x="1373.76" y="397.60" width="9.9" height="228.20"/>
<rect x="1388.28" y="398.20" width="9.9" height="227.80"/>
<rect x="1402.80" y="398.55" width="9.9" height="227.65"/>
<rect x="1417.32" y="399.00" width="9.9" height="227.40"/>
<rect x="1431.84" y="399.70" width="9.9" height="227.10"/>
<rect x="1446.36" y="400.20" width="9.9" height="226.80"/>
<rect x="1460.88" y="400.70" width="9.9" height="226.50"/>
<rect x="1475.40" y="401.50" width="9.9" height="225.90"/>
<rect x="1489.92" y="402.25" width="9.9" height="225.35"/>
<rect x="1504.44" y="402.90" width="9.9" height="224.90"/>
<rect x="1518.96" y="403.50" width="9.9" height="224.50"/>
<rect x="1533.48" y="404.40" width="9.9" height="223.80"/>
</g>
<g fill="#2644A7">
<rect x="96.00" y="590.90" width="9.9" height="111.50"/>
<rect x="110.52" y="592.20" width="9.9" height="110.20"/>
<rect x="125.04" y="593.10" width="9.9" height="109.30"/>
<rect x="139.56" y="593.90" width="9.9" height="108.50"/>
<rect x="154.08" y="594.80" width="9.9" height="107.60"/>
<rect x="168.60" y="596.00" width="9.9" height="106.40"/>
<rect x="183.12" y="596.50" width="9.9" height="105.90"/>
<rect x="197.64" y="597.30" width="9.9" height="105.10"/>
<rect x="212.16" y="597.80" width="9.9" height="104.60"/>
<rect x="226.68" y="598.40" width="9.9" height="104.00"/>
<rect x="241.20" y="599.00" width="9.9" height="103.40"/>
<rect x="255.72" y="599.70" width="9.9" height="102.70"/>
<rect x="270.24" y="599.90" width="9.9" height="102.50"/>
<rect x="284.76" y="600.65" width="9.9" height="101.75"/>
<rect x="299.28" y="600.80" width="9.9" height="101.60"/>
<rect x="313.80" y="600.70" width="9.9" height="101.70"/>
<rect x="328.32" y="600.60" width="9.9" height="101.80"/>
<rect x="342.84" y="601.00" width="9.9" height="101.40"/>
<rect x="357.36" y="601.00" width="9.9" height="101.40"/>
<rect x="371.88" y="601.20" width="9.9" height="101.20"/>
<rect x="386.40" y="602.00" width="9.9" height="100.40"/>
<rect x="400.92" y="602.20" width="9.9" height="100.20"/>
<rect x="415.44" y="602.20" width="9.9" height="100.20"/>
<rect x="429.96" y="602.40" width="9.9" height="100.00"/>
<rect x="444.48" y="602.60" width="9.9" height="99.80"/>
<rect x="459.00" y="603.20" width="9.9" height="99.20"/>
<rect x="473.52" y="604.00" width="9.9" height="98.40"/>
<rect x="488.04" y="605.20" width="9.9" height="97.20"/>
<rect x="502.56" y="607.00" width="9.9" height="95.40"/>
<rect x="517.08" y="608.00" width="9.9" height="94.40"/>
<rect x="531.60" y="609.00" width="9.9" height="93.40"/>
<rect x="546.12" y="610.00" width="9.9" height="92.40"/>
<rect x="560.64" y="611.00" width="9.9" height="91.40"/>
<rect x="575.16" y="612.20" width="9.9" height="90.20"/>
<rect x="589.68" y="613.00" width="9.9" height="89.40"/>
<rect x="604.20" y="613.80" width="9.9" height="88.60"/>
<rect x="618.72" y="614.60" width="9.9" height="87.80"/>
<rect x="633.24" y="615.10" width="9.9" height="87.30"/>
<rect x="647.76" y="615.80" width="9.9" height="86.60"/>
<rect x="662.28" y="616.60" width="9.9" height="85.80"/>
<rect x="676.80" y="617.00" width="9.9" height="85.40"/>
<rect x="691.32" y="617.20" width="9.9" height="85.20"/>
<rect x="705.84" y="617.20" width="9.9" height="85.20"/>
<rect x="720.36" y="617.20" width="9.9" height="85.20"/>
<rect x="734.88" y="617.00" width="9.9" height="85.40"/>
<rect x="749.40" y="616.80" width="9.9" height="85.60"/>
<rect x="763.92" y="616.60" width="9.9" height="85.80"/>
<rect x="778.44" y="616.20" width="9.9" height="86.20"/>
<rect x="792.96" y="616.20" width="9.9" height="86.20"/>
<rect x="807.48" y="616.20" width="9.9" height="86.20"/>
<rect x="822.00" y="616.20" width="9.9" height="86.20"/>
<rect x="836.52" y="616.20" width="9.9" height="86.20"/>
<rect x="851.04" y="616.40" width="9.9" height="86.00"/>
<rect x="865.56" y="616.80" width="9.9" height="85.60"/>
<rect x="880.08" y="617.20" width="9.9" height="85.20"/>
<rect x="894.60" y="617.60" width="9.9" height="84.80"/>
<rect x="909.12" y="618.00" width="9.9" height="84.40"/>
<rect x="923.64" y="618.40" width="9.9" height="84.00"/>
<rect x="938.16" y="618.70" width="9.9" height="83.70"/>
<rect x="952.68" y="619.20" width="9.9" height="83.20"/>
<rect x="967.20" y="620.00" width="9.9" height="82.40"/>
<rect x="981.72" y="620.60" width="9.9" height="81.80"/>
<rect x="996.24" y="621.20" width="9.9" height="81.20"/>
<rect x="1010.76" y="621.60" width="9.9" height="80.80"/>
<rect x="1025.28" y="622.20" width="9.9" height="80.20"/>
<rect x="1039.80" y="622.80" width="9.9" height="79.60"/>
<rect x="1054.32" y="623.20" width="9.9" height="79.20"/>
<rect x="1068.84" y="623.40" width="9.9" height="79.00"/>
<rect x="1083.36" y="623.60" width="9.9" height="78.80"/>
<rect x="1097.88" y="624.00" width="9.9" height="78.40"/>
<rect x="1112.40" y="624.20" width="9.9" height="78.20"/>
<rect x="1126.92" y="624.40" width="9.9" height="78.00"/>
<rect x="1141.44" y="624.60" width="9.9" height="77.80"/>
<rect x="1155.96" y="624.80" width="9.9" height="77.60"/>
<rect x="1170.48" y="625.00" width="9.9" height="77.40"/>
<rect x="1185.00" y="625.00" width="9.9" height="77.40"/>
<rect x="1199.52" y="625.00" width="9.9" height="77.40"/>
<rect x="1214.04" y="625.00" width="9.9" height="77.40"/>
<rect x="1228.56" y="625.00" width="9.9" height="77.40"/>
<rect x="1243.08" y="625.00" width="9.9" height="77.40"/>
<rect x="1257.60" y="625.00" width="9.9" height="77.40"/>
<rect x="1272.12" y="625.00" width="9.9" height="77.40"/>
<rect x="1286.64" y="625.00" width="9.9" height="77.40"/>
<rect x="1301.16" y="625.00" width="9.9" height="77.40"/>
<rect x="1315.68" y="625.00" width="9.9" height="77.40"/>
<rect x="1330.20" y="625.00" width="9.9" height="77.40"/>
<rect x="1344.72" y="625.40" width="9.9" height="77.00"/>
<rect x="1359.24" y="625.60" width="9.9" height="76.80"/>
<rect x="1373.76" y="625.80" width="9.9" height="76.60"/>
<rect x="1388.28" y="626.00" width="9.9" height="76.40"/>
<rect x="1402.80" y="626.20" width="9.9" height="76.20"/>
<rect x="1417.32" y="626.40" width="9.9" height="76.00"/>
<rect x="1431.84" y="626.80" width="9.9" height="75.60"/>
<rect x="1446.36" y="627.00" width="9.9" height="75.40"/>
<rect x="1460.88" y="627.20" width="9.9" height="75.20"/>
<rect x="1475.40" y="627.40" width="9.9" height="75.00"/>
<rect x="1489.92" y="627.60" width="9.9" height="74.80"/>
<rect x="1504.44" y="627.80" width="9.9" height="74.60"/>
<rect x="1518.96" y="628.00" width="9.9" height="74.40"/>
<rect x="1533.48" y="628.20" width="9.9" height="74.20"/>
</g>
<g stroke="#D9D9DE" stroke-width="1" fill="none">
<path d="M108.21 688V702.50"/>
<path d="M122.73 688V702.50"/>
<path d="M137.25 688V702.50"/>
<path d="M151.77 688V702.50"/>
<path d="M166.29 688V702.50"/>
<path d="M180.81 688V702.50"/>
<path d="M195.33 688V702.50"/>
<path d="M209.85 688V702.50"/>
<path d="M224.37 688V702.50"/>
<path d="M238.89 688V702.50"/>
<path d="M253.41 688V702.50"/>
<path d="M267.93 688V702.50"/>
<path d="M282.45 688V702.50"/>
<path d="M296.97 688V702.50"/>
<path d="M311.49 688V702.50"/>
<path d="M326.01 688V702.50"/>
<path d="M340.53 688V702.50"/>
<path d="M355.05 688V702.50"/>
<path d="M369.57 688V702.50"/>
<path d="M384.09 688V702.50"/>
<path d="M398.61 688V702.50"/>
<path d="M413.13 688V702.50"/>
<path d="M427.65 688V702.50"/>
<path d="M442.17 688V702.50"/>
<path d="M456.69 688V702.50"/>
<path d="M471.21 688V702.50"/>
<path d="M485.73 688V702.50"/>
<path d="M500.25 688V702.50"/>
<path d="M514.77 688V702.50"/>
<path d="M529.29 688V702.50"/>
<path d="M543.81 688V702.50"/>
<path d="M558.33 688V702.50"/>
<path d="M572.85 688V702.50"/>
<path d="M587.37 688V702.50"/>
<path d="M601.89 688V702.50"/>
<path d="M616.41 688V702.50"/>
<path d="M630.93 688V702.50"/>
<path d="M645.45 688V702.50"/>
<path d="M659.97 688V702.50"/>
<path d="M674.49 688V702.50"/>
<path d="M689.01 688V702.50"/>
<path d="M703.53 688V702.50"/>
<path d="M718.05 688V702.50"/>
<path d="M732.57 688V702.50"/>
<path d="M747.09 688V702.50"/>
<path d="M761.61 688V702.50"/>
<path d="M776.13 688V702.50"/>
<path d="M790.65 688V702.50"/>
<path d="M805.17 688V702.50"/>
<path d="M819.69 688V702.50"/>
<path d="M834.21 688V702.50"/>
<path d="M848.73 688V702.50"/>
<path d="M863.25 688V702.50"/>
<path d="M877.77 688V702.50"/>
<path d="M892.29 688V702.50"/>
<path d="M906.81 688V702.50"/>
<path d="M921.33 688V702.50"/>
<path d="M935.85 688V702.50"/>
<path d="M950.37 688V702.50"/>
<path d="M964.89 688V702.50"/>
<path d="M979.41 688V702.50"/>
<path d="M993.93 688V702.50"/>
<path d="M1008.45 688V702.50"/>
<path d="M1022.97 688V702.50"/>
<path d="M1037.49 688V702.50"/>
<path d="M1052.01 688V702.50"/>
<path d="M1066.53 688V702.50"/>
<path d="M1081.05 688V702.50"/>
<path d="M1095.57 688V702.50"/>
<path d="M1110.09 688V702.50"/>
<path d="M1124.61 688V702.50"/>
<path d="M1139.13 688V702.50"/>
<path d="M1153.65 688V702.50"/>
<path d="M1168.17 688V702.50"/>
<path d="M1182.69 688V702.50"/>
<path d="M1197.21 688V702.50"/>
<path d="M1211.73 688V702.50"/>
<path d="M1226.25 688V702.50"/>
<path d="M1240.77 688V702.50"/>
<path d="M1255.29 688V702.50"/>
<path d="M1269.81 688V702.50"/>
<path d="M1284.33 688V702.50"/>
<path d="M1298.85 688V702.50"/>
<path d="M1313.37 688V702.50"/>
<path d="M1327.89 688V702.50"/>
<path d="M1342.41 688V702.50"/>
<path d="M1356.93 688V702.50"/>
<path d="M1371.45 688V702.50"/>
<path d="M1385.97 688V702.50"/>
<path d="M1400.49 688V702.50"/>
<path d="M1415.01 688V702.50"/>
<path d="M1429.53 688V702.50"/>
<path d="M1444.05 688V702.50"/>
<path d="M1458.57 688V702.50"/>
<path d="M1473.09 688V702.50"/>
<path d="M1487.61 688V702.50"/>
<path d="M1502.13 688V702.50"/>
<path d="M1516.65 688V702.50"/>
<path d="M1531.17 688V702.50"/>
</g>
<path d="M93.6 140V703.10" stroke="#6C6D75" stroke-width="1" fill="none"/>
<path d="M93.1 702.60H1545.5" stroke="#85858C" stroke-width="1" fill="none"/>
<rect x="44" y="775.5" width="14.8" height="14.6" fill="#2644A7"/>
<rect x="223.8" y="775.5" width="14.8" height="14.6" fill="#9CBFF9"/>
<rect x="353.5" y="775.5" width="14.8" height="14.6" fill="#E8AE02"/>
<rect x="484" y="775.5" width="14.8" height="14.6" fill="#EDCF88"/>
<path d="M1434.7 798.5H1472.4L1389.2 900H1347.6Z" fill="url(#gy)"/>
<path d="M1472.4 798.5L1515.6 849.2H1477.3L1454.2 822.2Z" fill="url(#gg)"/><path d="M1477.6 849.1H1515" stroke="#B4B6C6" stroke-width="0.9" fill="none"/>
<path d="M1561.9 748.2H1601L1515.6 849.2L1496.6 826.2Z" fill="url(#gb)"/>
<rect x="205.6" y="854.4" width="33.4" height="22.5" fill="#0E3AA5"/>
<circle cx="222.40" cy="858.10" r="1.15" fill="#F3D03A"/>
<circle cx="226.20" cy="859.12" r="1.15" fill="#F3D03A"/>
<circle cx="228.98" cy="861.90" r="1.15" fill="#F3D03A"/>
<circle cx="230.00" cy="865.70" r="1.15" fill="#F3D03A"/>
<circle cx="228.98" cy="869.50" r="1.15" fill="#F3D03A"/>
<circle cx="226.20" cy="872.28" r="1.15" fill="#F3D03A"/>
<circle cx="222.40" cy="873.30" r="1.15" fill="#F3D03A"/>
<circle cx="218.60" cy="872.28" r="1.15" fill="#F3D03A"/>
<circle cx="215.82" cy="869.50" r="1.15" fill="#F3D03A"/>
<circle cx="214.80" cy="865.70" r="1.15" fill="#F3D03A"/>
<circle cx="215.82" cy="861.90" r="1.15" fill="#F3D03A"/>
<circle cx="218.60" cy="859.12" r="1.15" fill="#F3D03A"/>
</svg>
<div id="tw0" class="t" style="left:43.43px;top:32.53px;font-size:36px;line-height:36px;font-weight:bold;font-style:normal;color:#262B38;transform:scaleX(0.6757);">EU</div>
<div id="tw1" class="t" style="left:84.94px;top:32.53px;font-size:36px;line-height:36px;font-weight:bold;font-style:normal;color:#262B38;transform:scaleX(0.8271);">population,</div>
<div id="tw2" class="t" style="left:251.72px;top:32.53px;font-size:36px;line-height:36px;font-weight:bold;font-style:normal;color:#262B38;transform:scaleX(0.7827);">observed</div>
<div id="tw3" class="t" style="left:383.68px;top:32.53px;font-size:36px;line-height:36px;font-weight:bold;font-style:normal;color:#262B38;transform:scaleX(0.8150);">data</div>
<div id="tw4" class="t" style="left:453.63px;top:32.53px;font-size:36px;line-height:36px;font-weight:bold;font-style:normal;color:#262B38;transform:scaleX(0.8101);">(2001</div>
<div id="tw5" class="t" style="left:537.22px;top:32.53px;font-size:36px;line-height:36px;font-weight:bold;font-style:normal;color:#262B38;transform:scaleX(0.9621);">-</div>
<div id="tw6" class="t" style="left:555.35px;top:32.53px;font-size:36px;line-height:36px;font-weight:bold;font-style:normal;color:#262B38;transform:scaleX(0.8478);">2024)</div>
<div id="tw7" class="t" style="left:640.83px;top:32.53px;font-size:36px;line-height:36px;font-weight:bold;font-style:normal;color:#262B38;transform:scaleX(0.8293);">and</div>
<div id="tw8" class="t" style="left:698.77px;top:32.53px;font-size:36px;line-height:36px;font-weight:bold;font-style:normal;color:#262B38;transform:scaleX(0.8147);">projected</div>
<div id="tw9" class="t" style="left:837.09px;top:32.53px;font-size:36px;line-height:36px;font-weight:bold;font-style:normal;color:#262B38;transform:scaleX(0.8082);">data</div>
<div id="tw10" class="t" style="left:905.58px;top:32.53px;font-size:36px;line-height:36px;font-weight:bold;font-style:normal;color:#262B38;transform:scaleX(0.8403);">(2025</div>
<div id="tw11" class="t" style="left:991.57px;top:32.53px;font-size:36px;line-height:36px;font-weight:bold;font-style:normal;color:#262B38;transform:scaleX(0.9203);">-</div>
<div id="tw12" class="t" style="left:1008.25px;top:32.53px;font-size:36px;line-height:36px;font-weight:bold;font-style:normal;color:#262B38;transform:scaleX(0.8422);">2100)</div>
<div id="sw0" class="t" style="left:42.89px;top:83.68px;font-size:24px;line-height:24px;font-weight:normal;font-style:italic;color:#262B38;-webkit-text-stroke:0.25px #262B38;transform:scaleX(0.9420);">(in</div>
<div id="sw1" class="t" style="left:74.24px;top:83.68px;font-size:24px;line-height:24px;font-weight:normal;font-style:italic;color:#262B38;-webkit-text-stroke:0.25px #262B38;transform:scaleX(0.9718);">millions,</div>
<div id="sw2" class="t" style="left:161.99px;top:83.68px;font-size:24px;line-height:24px;font-weight:normal;font-style:italic;color:#262B38;-webkit-text-stroke:0.25px #262B38;transform:scaleX(0.8798);">by</div>
<div id="sw3" class="t" style="left:190.54px;top:83.68px;font-size:24px;line-height:24px;font-weight:normal;font-style:italic;color:#262B38;-webkit-text-stroke:0.25px #262B38;transform:scaleX(0.9465);">major</div>
<div id="sw4" class="t" style="left:255.76px;top:83.68px;font-size:24px;line-height:24px;font-weight:normal;font-style:italic;color:#262B38;-webkit-text-stroke:0.25px #262B38;transform:scaleX(0.8933);">age</div>
<div id="sw5" class="t" style="left:297.10px;top:83.68px;font-size:24px;line-height:24px;font-weight:normal;font-style:italic;color:#262B38;-webkit-text-stroke:0.25px #262B38;transform:scaleX(0.9484);">groups)</div>
<div id="y0" class="t" style="left:61.73px;top:693.75px;font-size:22.5px;line-height:22.5px;font-weight:normal;font-style:normal;color:#262B38;-webkit-text-stroke:0.3px #262B38;transform:scaleX(0.7332);">0</div>
<div id="y50" class="t" style="left:52.56px;top:637.51px;font-size:22.5px;line-height:22.5px;font-weight:normal;font-style:normal;color:#262B38;-webkit-text-stroke:0.3px #262B38;transform:scaleX(0.7332);">50</div>
<div id="y100" class="t" style="left:43.38px;top:581.27px;font-size:22.5px;line-height:22.5px;font-weight:normal;font-style:normal;color:#262B38;-webkit-text-stroke:0.3px #262B38;transform:scaleX(0.7332);">100</div>
<div id="y150" class="t" style="left:43.38px;top:525.03px;font-size:22.5px;line-height:22.5px;font-weight:normal;font-style:normal;color:#262B38;-webkit-text-stroke:0.3px #262B38;transform:scaleX(0.7332);">150</div>
<div id="y200" class="t" style="left:43.38px;top:468.79px;font-size:22.5px;line-height:22.5px;font-weight:normal;font-style:normal;color:#262B38;-webkit-text-stroke:0.3px #262B38;transform:scaleX(0.7332);">200</div>
<div id="y250" class="t" style="left:43.38px;top:412.55px;font-size:22.5px;line-height:22.5px;font-weight:normal;font-style:normal;color:#262B38;-webkit-text-stroke:0.3px #262B38;transform:scaleX(0.7332);">250</div>
<div id="y300" class="t" style="left:43.38px;top:356.31px;font-size:22.5px;line-height:22.5px;font-weight:normal;font-style:normal;color:#262B38;-webkit-text-stroke:0.3px #262B38;transform:scaleX(0.7332);">300</div>
<div id="y350" class="t" style="left:43.38px;top:300.07px;font-size:22.5px;line-height:22.5px;font-weight:normal;font-style:normal;color:#262B38;-webkit-text-stroke:0.3px #262B38;transform:scaleX(0.7332);">350</div>
<div id="y400" class="t" style="left:43.38px;top:243.83px;font-size:22.5px;line-height:22.5px;font-weight:normal;font-style:normal;color:#262B38;-webkit-text-stroke:0.3px #262B38;transform:scaleX(0.7332);">400</div>
<div id="y450" class="t" style="left:43.38px;top:187.59px;font-size:22.5px;line-height:22.5px;font-weight:normal;font-style:normal;color:#262B38;-webkit-text-stroke:0.3px #262B38;transform:scaleX(0.7332);">450</div>
<div id="y500" class="t" style="left:43.38px;top:131.35px;font-size:22.5px;line-height:22.5px;font-weight:normal;font-style:normal;color:#262B38;-webkit-text-stroke:0.3px #262B38;transform:scaleX(0.7332);">500</div>
<div id="x2001" class="t" style="left:81.53px;top:716.05px;font-size:22.5px;line-height:22.5px;font-weight:normal;font-style:normal;color:#262B38;-webkit-text-stroke:0.3px #262B38;transform:scaleX(0.7736);">2001</div>
<div id="x2010" class="t" style="left:212.08px;top:716.05px;font-size:22.5px;line-height:22.5px;font-weight:normal;font-style:normal;color:#262B38;-webkit-text-stroke:0.3px #262B38;transform:scaleX(0.7736);">2010</div>
<div id="x2020" class="t" style="left:357.28px;top:716.05px;font-size:22.5px;line-height:22.5px;font-weight:normal;font-style:normal;color:#262B38;-webkit-text-stroke:0.3px #262B38;transform:scaleX(0.7736);">2020</div>
<div id="x2030" class="t" style="left:502.48px;top:716.05px;font-size:22.5px;line-height:22.5px;font-weight:normal;font-style:normal;color:#262B38;-webkit-text-stroke:0.3px #262B38;transform:scaleX(0.7736);">2030</div>
<div id="x2040" class="t" style="left:647.68px;top:716.05px;font-size:22.5px;line-height:22.5px;font-weight:normal;font-style:normal;color:#262B38;-webkit-text-stroke:0.3px #262B38;transform:scaleX(0.7736);">2040</div>
<div id="x2050" class="t" style="left:792.88px;top:716.05px;font-size:22.5px;line-height:22.5px;font-weight:normal;font-style:normal;color:#262B38;-webkit-text-stroke:0.3px #262B38;transform:scaleX(0.7736);">2050</div>
<div id="x2060" class="t" style="left:938.08px;top:716.05px;font-size:22.5px;line-height:22.5px;font-weight:normal;font-style:normal;color:#262B38;-webkit-text-stroke:0.3px #262B38;transform:scaleX(0.7736);">2060</div>
<div id="x2070" class="t" style="left:1083.28px;top:716.05px;font-size:22.5px;line-height:22.5px;font-weight:normal;font-style:normal;color:#262B38;-webkit-text-stroke:0.3px #262B38;transform:scaleX(0.7736);">2070</div>
<div id="x2080" class="t" style="left:1228.48px;top:716.05px;font-size:22.5px;line-height:22.5px;font-weight:normal;font-style:normal;color:#262B38;-webkit-text-stroke:0.3px #262B38;transform:scaleX(0.7736);">2080</div>
<div id="x2090" class="t" style="left:1373.68px;top:716.05px;font-size:22.5px;line-height:22.5px;font-weight:normal;font-style:normal;color:#262B38;-webkit-text-stroke:0.3px #262B38;transform:scaleX(0.7736);">2090</div>
<div id="x2100" class="t" style="left:1518.88px;top:716.05px;font-size:22.5px;line-height:22.5px;font-weight:normal;font-style:normal;color:#262B38;-webkit-text-stroke:0.3px #262B38;transform:scaleX(0.7736);">2100</div>
<div id="leg0" class="t" style="left:66.31px;top:771.78px;font-size:22px;line-height:22px;font-weight:normal;font-style:normal;color:#262B38;-webkit-text-stroke:0.3px #262B38;transform:scaleX(0.7488);">Less than 20 years</div>
<div id="leg1" class="t" style="left:245.60px;top:771.78px;font-size:22px;line-height:22px;font-weight:normal;font-style:normal;color:#262B38;-webkit-text-stroke:0.3px #262B38;transform:scaleX(0.7706);">20-64 years</div>
<div id="leg2" class="t" style="left:375.60px;top:771.78px;font-size:22px;line-height:22px;font-weight:normal;font-style:normal;color:#262B38;-webkit-text-stroke:0.3px #262B38;transform:scaleX(0.7758);">65-79 years</div>
<div id="leg3" class="t" style="left:506.48px;top:771.78px;font-size:22px;line-height:22px;font-weight:normal;font-style:normal;color:#262B38;-webkit-text-stroke:0.3px #262B38;transform:scaleX(0.7498);">80 years or over</div>
<div id="fw0" class="t" style="left:43.12px;top:810.42px;font-size:18.4px;line-height:18.4px;font-weight:normal;font-style:italic;color:#262B38;-webkit-text-stroke:0.25px #262B38;transform:scaleX(0.7223);">Projected</div>
<div id="fw1" class="t" style="left:103.76px;top:810.42px;font-size:18.4px;line-height:18.4px;font-weight:normal;font-style:italic;color:#262B38;-webkit-text-stroke:0.25px #262B38;transform:scaleX(0.7953);">population</div>
<div id="fw2" class="t" style="left:174.44px;top:810.42px;font-size:18.4px;line-height:18.4px;font-weight:normal;font-style:italic;color:#262B38;-webkit-text-stroke:0.25px #262B38;transform:scaleX(0.7965);">data</div>
<div id="fw3" class="t" style="left:206.06px;top:810.42px;font-size:18.4px;line-height:18.4px;font-weight:normal;font-style:italic;color:#262B38;-webkit-text-stroke:0.25px #262B38;transform:scaleX(0.7706);">for</div>
<div id="fw4" class="t" style="left:226.79px;top:810.42px;font-size:18.4px;line-height:18.4px;font-weight:normal;font-style:italic;color:#262B38;-webkit-text-stroke:0.25px #262B38;transform:scaleX(0.7435);">Poland</div>
<div id="fw5" class="t" style="left:273.09px;top:810.42px;font-size:18.4px;line-height:18.4px;font-weight:normal;font-style:italic;color:#262B38;-webkit-text-stroke:0.25px #262B38;transform:scaleX(0.7298);">and</div>
<div id="fw6" class="t" style="left:299.48px;top:810.42px;font-size:18.4px;line-height:18.4px;font-weight:normal;font-style:italic;color:#262B38;-webkit-text-stroke:0.25px #262B38;transform:scaleX(0.7660);">Slovakia</div>
<div id="fw7" class="t" style="left:356.29px;top:810.42px;font-size:18.4px;line-height:18.4px;font-weight:normal;font-style:italic;color:#262B38;-webkit-text-stroke:0.25px #262B38;transform:scaleX(0.7223);">has</div>
<div id="fw8" class="t" style="left:381.00px;top:810.42px;font-size:18.4px;line-height:18.4px;font-weight:normal;font-style:italic;color:#262B38;-webkit-text-stroke:0.25px #262B38;transform:scaleX(0.7316);">been</div>
<div id="fw9" class="t" style="left:413.98px;top:810.42px;font-size:18.4px;line-height:18.4px;font-weight:normal;font-style:italic;color:#262B38;-webkit-text-stroke:0.25px #262B38;transform:scaleX(0.7503);">adjusted</div>
<div id="fw10" class="t" style="left:469.85px;top:810.42px;font-size:18.4px;line-height:18.4px;font-weight:normal;font-style:italic;color:#262B38;-webkit-text-stroke:0.25px #262B38;transform:scaleX(0.7895);">to</div>
<div id="fw11" class="t" style="left:485.58px;top:810.42px;font-size:18.4px;line-height:18.4px;font-weight:normal;font-style:italic;color:#262B38;-webkit-text-stroke:0.25px #262B38;transform:scaleX(0.7644);">include</div>
<div id="fw12" class="t" style="left:534.00px;top:810.42px;font-size:18.4px;line-height:18.4px;font-weight:normal;font-style:italic;color:#262B38;-webkit-text-stroke:0.25px #262B38;transform:scaleX(0.7494);">beneficiaries</div>
<div id="fw13" class="t" style="left:614.85px;top:810.42px;font-size:18.4px;line-height:18.4px;font-weight:normal;font-style:italic;color:#262B38;-webkit-text-stroke:0.25px #262B38;transform:scaleX(0.7223);">of</div>
<div id="fw14" class="t" style="left:630.46px;top:810.42px;font-size:18.4px;line-height:18.4px;font-weight:normal;font-style:italic;color:#262B38;-webkit-text-stroke:0.25px #262B38;transform:scaleX(0.7710);">temporary</div>
<div id="fw15" class="t" style="left:699.25px;top:810.42px;font-size:18.4px;line-height:18.4px;font-weight:normal;font-style:italic;color:#262B38;-webkit-text-stroke:0.25px #262B38;transform:scaleX(0.7813);">protection</div>
<div id="fw16" class="t" style="left:765.04px;top:810.42px;font-size:18.4px;line-height:18.4px;font-weight:normal;font-style:italic;color:#262B38;-webkit-text-stroke:0.25px #262B38;transform:scaleX(0.7984);">following</div>
<div id="fw17" class="t" style="left:826.72px;top:810.42px;font-size:18.4px;line-height:18.4px;font-weight:normal;font-style:italic;color:#262B38;-webkit-text-stroke:0.25px #262B38;transform:scaleX(0.7223);">Eurostat</div>
<div id="fw18" class="t" style="left:880.58px;top:810.42px;font-size:18.4px;line-height:18.4px;font-weight:normal;font-style:italic;color:#262B38;-webkit-text-stroke:0.25px #262B38;transform:scaleX(0.7713);">recommendations.</div>
<div id="logo" class="t" style="left:65.17px;top:847.12px;font-size:35.3px;line-height:35.3px;font-weight:bold;font-style:normal;color:#7B7C84;transform:scaleX(0.9765);">eurostat</div>
</body></html>
